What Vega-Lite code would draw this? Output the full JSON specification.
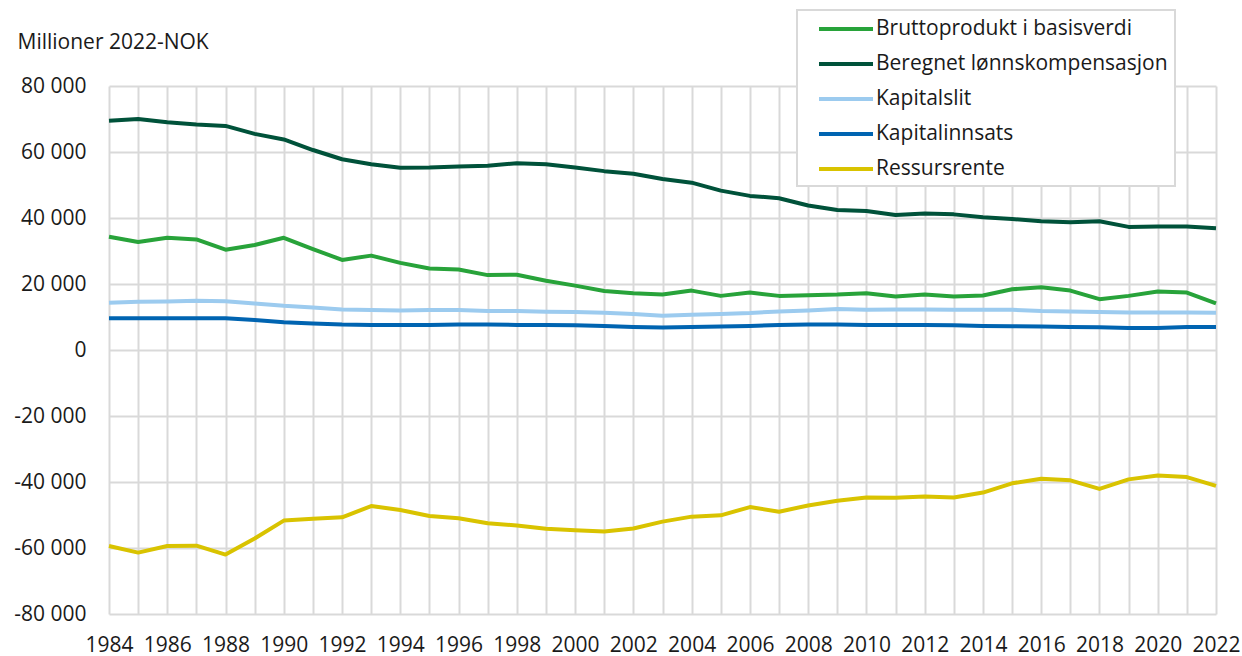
{
  "$schema": "https://vega.github.io/schema/vega-lite/v6.json",
  "width": 1107,
  "height": 528,
  "autosize": {"type": "none"},
  "padding": {"left": 109, "top": 86, "right": 26, "bottom": 42},
  "background": "white",
  "config": {"font": "Open Sans", "view": {"stroke": null}},
  "data": {
    "values": [
      {"year": 1984, "Bruttoprodukt i basisverdi": 34300, "Beregnet lønnskompensasjon": 69500, "Kapitalslit": 14300, "Kapitalinnsats": 9600, "Ressursrente": -59400},
      {"year": 1985, "Bruttoprodukt i basisverdi": 32700, "Beregnet lønnskompensasjon": 70000, "Kapitalslit": 14600, "Kapitalinnsats": 9600, "Ressursrente": -61400},
      {"year": 1986, "Bruttoprodukt i basisverdi": 34000, "Beregnet lønnskompensasjon": 69000, "Kapitalslit": 14700, "Kapitalinnsats": 9600, "Ressursrente": -59400},
      {"year": 1987, "Bruttoprodukt i basisverdi": 33500, "Beregnet lønnskompensasjon": 68300, "Kapitalslit": 14900, "Kapitalinnsats": 9600, "Ressursrente": -59300},
      {"year": 1988, "Bruttoprodukt i basisverdi": 30400, "Beregnet lønnskompensasjon": 67900, "Kapitalslit": 14800, "Kapitalinnsats": 9600, "Ressursrente": -62000},
      {"year": 1989, "Bruttoprodukt i basisverdi": 31800, "Beregnet lønnskompensasjon": 65500, "Kapitalslit": 14100, "Kapitalinnsats": 9100, "Ressursrente": -57100},
      {"year": 1990, "Bruttoprodukt i basisverdi": 34000, "Beregnet lønnskompensasjon": 63800, "Kapitalslit": 13400, "Kapitalinnsats": 8400, "Ressursrente": -51700},
      {"year": 1991, "Bruttoprodukt i basisverdi": 30600, "Beregnet lønnskompensasjon": 60600, "Kapitalslit": 12900, "Kapitalinnsats": 8000, "Ressursrente": -51100},
      {"year": 1992, "Bruttoprodukt i basisverdi": 27300, "Beregnet lønnskompensasjon": 57800, "Kapitalslit": 12300, "Kapitalinnsats": 7700, "Ressursrente": -50700},
      {"year": 1993, "Bruttoprodukt i basisverdi": 28600, "Beregnet lønnskompensasjon": 56300, "Kapitalslit": 12100, "Kapitalinnsats": 7600, "Ressursrente": -47300},
      {"year": 1994, "Bruttoprodukt i basisverdi": 26400, "Beregnet lønnskompensasjon": 55200, "Kapitalslit": 12000, "Kapitalinnsats": 7600, "Ressursrente": -48500},
      {"year": 1995, "Bruttoprodukt i basisverdi": 24700, "Beregnet lønnskompensasjon": 55300, "Kapitalslit": 12100, "Kapitalinnsats": 7600, "Ressursrente": -50300},
      {"year": 1996, "Bruttoprodukt i basisverdi": 24400, "Beregnet lønnskompensasjon": 55600, "Kapitalslit": 12100, "Kapitalinnsats": 7700, "Ressursrente": -51000},
      {"year": 1997, "Bruttoprodukt i basisverdi": 22700, "Beregnet lønnskompensasjon": 55800, "Kapitalslit": 11800, "Kapitalinnsats": 7700, "Ressursrente": -52500},
      {"year": 1998, "Bruttoprodukt i basisverdi": 22800, "Beregnet lønnskompensasjon": 56600, "Kapitalslit": 11800, "Kapitalinnsats": 7600, "Ressursrente": -53200},
      {"year": 1999, "Bruttoprodukt i basisverdi": 21000, "Beregnet lønnskompensasjon": 56300, "Kapitalslit": 11600, "Kapitalinnsats": 7600, "Ressursrente": -54200},
      {"year": 2000, "Bruttoprodukt i basisverdi": 19500, "Beregnet lønnskompensasjon": 55300, "Kapitalslit": 11500, "Kapitalinnsats": 7500, "Ressursrente": -54600},
      {"year": 2001, "Bruttoprodukt i basisverdi": 17900, "Beregnet lønnskompensasjon": 54200, "Kapitalslit": 11300, "Kapitalinnsats": 7300, "Ressursrente": -55000},
      {"year": 2002, "Bruttoprodukt i basisverdi": 17200, "Beregnet lønnskompensasjon": 53400, "Kapitalslit": 10900, "Kapitalinnsats": 7000, "Ressursrente": -54100},
      {"year": 2003, "Bruttoprodukt i basisverdi": 16800, "Beregnet lønnskompensasjon": 51800, "Kapitalslit": 10400, "Kapitalinnsats": 6800, "Ressursrente": -52000},
      {"year": 2004, "Bruttoprodukt i basisverdi": 18000, "Beregnet lønnskompensasjon": 50700, "Kapitalslit": 10700, "Kapitalinnsats": 7000, "Ressursrente": -50500},
      {"year": 2005, "Bruttoprodukt i basisverdi": 16400, "Beregnet lønnskompensasjon": 48300, "Kapitalslit": 10900, "Kapitalinnsats": 7100, "Ressursrente": -50100},
      {"year": 2006, "Bruttoprodukt i basisverdi": 17400, "Beregnet lønnskompensasjon": 46700, "Kapitalslit": 11200, "Kapitalinnsats": 7300, "Ressursrente": -47600},
      {"year": 2007, "Bruttoprodukt i basisverdi": 16400, "Beregnet lønnskompensasjon": 46000, "Kapitalslit": 11700, "Kapitalinnsats": 7600, "Ressursrente": -49000},
      {"year": 2008, "Bruttoprodukt i basisverdi": 16600, "Beregnet lønnskompensasjon": 43800, "Kapitalslit": 12000, "Kapitalinnsats": 7700, "Ressursrente": -47100},
      {"year": 2009, "Bruttoprodukt i basisverdi": 16800, "Beregnet lønnskompensasjon": 42400, "Kapitalslit": 12400, "Kapitalinnsats": 7700, "Ressursrente": -45700},
      {"year": 2010, "Bruttoprodukt i basisverdi": 17200, "Beregnet lønnskompensasjon": 42100, "Kapitalslit": 12200, "Kapitalinnsats": 7600, "Ressursrente": -44700},
      {"year": 2011, "Bruttoprodukt i basisverdi": 16200, "Beregnet lønnskompensasjon": 40900, "Kapitalslit": 12300, "Kapitalinnsats": 7600, "Ressursrente": -44800},
      {"year": 2012, "Bruttoprodukt i basisverdi": 16800, "Beregnet lønnskompensasjon": 41400, "Kapitalslit": 12300, "Kapitalinnsats": 7600, "Ressursrente": -44400},
      {"year": 2013, "Bruttoprodukt i basisverdi": 16200, "Beregnet lønnskompensasjon": 41100, "Kapitalslit": 12200, "Kapitalinnsats": 7500, "Ressursrente": -44700},
      {"year": 2014, "Bruttoprodukt i basisverdi": 16500, "Beregnet lønnskompensasjon": 40200, "Kapitalslit": 12200, "Kapitalinnsats": 7300, "Ressursrente": -43200},
      {"year": 2015, "Bruttoprodukt i basisverdi": 18400, "Beregnet lønnskompensasjon": 39700, "Kapitalslit": 12200, "Kapitalinnsats": 7200, "Ressursrente": -40400},
      {"year": 2016, "Bruttoprodukt i basisverdi": 19000, "Beregnet lønnskompensasjon": 39000, "Kapitalslit": 11800, "Kapitalinnsats": 7100, "Ressursrente": -39000},
      {"year": 2017, "Bruttoprodukt i basisverdi": 18000, "Beregnet lønnskompensasjon": 38700, "Kapitalslit": 11700, "Kapitalinnsats": 7000, "Ressursrente": -39500},
      {"year": 2018, "Bruttoprodukt i basisverdi": 15400, "Beregnet lønnskompensasjon": 39000, "Kapitalslit": 11500, "Kapitalinnsats": 6900, "Ressursrente": -42100},
      {"year": 2019, "Bruttoprodukt i basisverdi": 16400, "Beregnet lønnskompensasjon": 37300, "Kapitalslit": 11400, "Kapitalinnsats": 6700, "Ressursrente": -39200},
      {"year": 2020, "Bruttoprodukt i basisverdi": 17700, "Beregnet lønnskompensasjon": 37400, "Kapitalslit": 11400, "Kapitalinnsats": 6700, "Ressursrente": -38000},
      {"year": 2021, "Bruttoprodukt i basisverdi": 17400, "Beregnet lønnskompensasjon": 37400, "Kapitalslit": 11400, "Kapitalinnsats": 7000, "Ressursrente": -38500},
      {"year": 2022, "Bruttoprodukt i basisverdi": 14100, "Beregnet lønnskompensasjon": 36900, "Kapitalslit": 11300, "Kapitalinnsats": 7000, "Ressursrente": -41200}
    ]
  },
  "transform": [
    {"fold": ["Bruttoprodukt i basisverdi", "Beregnet lønnskompensasjon", "Kapitalslit", "Kapitalinnsats", "Ressursrente"], "as": ["series", "value"]}
  ],
  "mark": {"type": "line", "strokeWidth": 4, "strokeJoin": "round"},
  "encoding": {
    "x": {
      "field": "year",
      "type": "quantitative",
      "scale": {"domain": [1984, 2022], "nice": false, "zero": false},
      "axis": {
        "title": null,
        "values": [1984,1985,1986,1987,1988,1989,1990,1991,1992,1993,1994,1995,1996,1997,1998,1999,2000,2001,2002,2003,2004,2005,2006,2007,2008,2009,2010,2011,2012,2013,2014,2015,2016,2017,2018,2019,2020,2021,2022],
        "format": "d",
        "labelExpr": "datum.value % 2 == 0 ? datum.label : ''",
        "labelOverlap": false,
        "labelFlush": false,
        "grid": true,
        "gridColor": "#d9d9d9",
        "gridWidth": 2,
        "domain": false,
        "ticks": false,
        "labelFontSize": 21,
        "labelColor": "#1a1a1a",
        "labelPadding": 20
      }
    },
    "y": {
      "field": "value",
      "type": "quantitative",
      "scale": {"domain": [-80000, 80000], "nice": false},
      "axis": {
        "values": [-80000, -60000, -40000, -20000, 0, 20000, 40000, 60000, 80000],
        "labelExpr": "(datum.value < 0 ? '-' : '') + replace(format(abs(datum.value), ','), ',', ' ')",
        "grid": true,
        "gridColor": "#d9d9d9",
        "gridWidth": 2,
        "domain": false,
        "ticks": false,
        "labelFontSize": 21,
        "labelColor": "#1a1a1a",
        "labelPadding": 23,
        "title": "Millioner 2022-NOK",
        "titleAngle": 0,
        "titleAlign": "left",
        "titleBaseline": "middle",
        "titleX": -92,
        "titleY": -44,
        "titleFontSize": 21,
        "titleFontWeight": "normal",
        "titleColor": "#1a1a1a"
      }
    },
    "color": {
      "field": "series",
      "type": "nominal",
      "scale": {
        "domain": ["Bruttoprodukt i basisverdi", "Beregnet lønnskompensasjon", "Kapitalslit", "Kapitalinnsats", "Ressursrente"],
        "range": ["#28a33a", "#00523a", "#9ccbef", "#0064b1", "#d9c300"]
      },
      "legend": {
        "orient": "none",
        "legendX": 688,
        "legendY": -76,
        "title": null,
        "symbolType": "M-2.7,0H2.7",
        "symbolSize": 400,
        "symbolStrokeWidth": 4,
        "padding": 7,
        "symbolOffset": 30,
        "labelOffset": 18,
        "rowPadding": 13,
        "labelFontSize": 21,
        "labelColor": "#1a1a1a",
        "labelLimit": 420,
        "labelExpr": "datum.label + '\u00a0\u00a0\u00a0'",
        "strokeColor": "#d9d9d9",
        "fillColor": "white",
        "encode": {"legend": {"update": {"strokeWidth": {"value": 2}}}}
      }
    }
  }
}
